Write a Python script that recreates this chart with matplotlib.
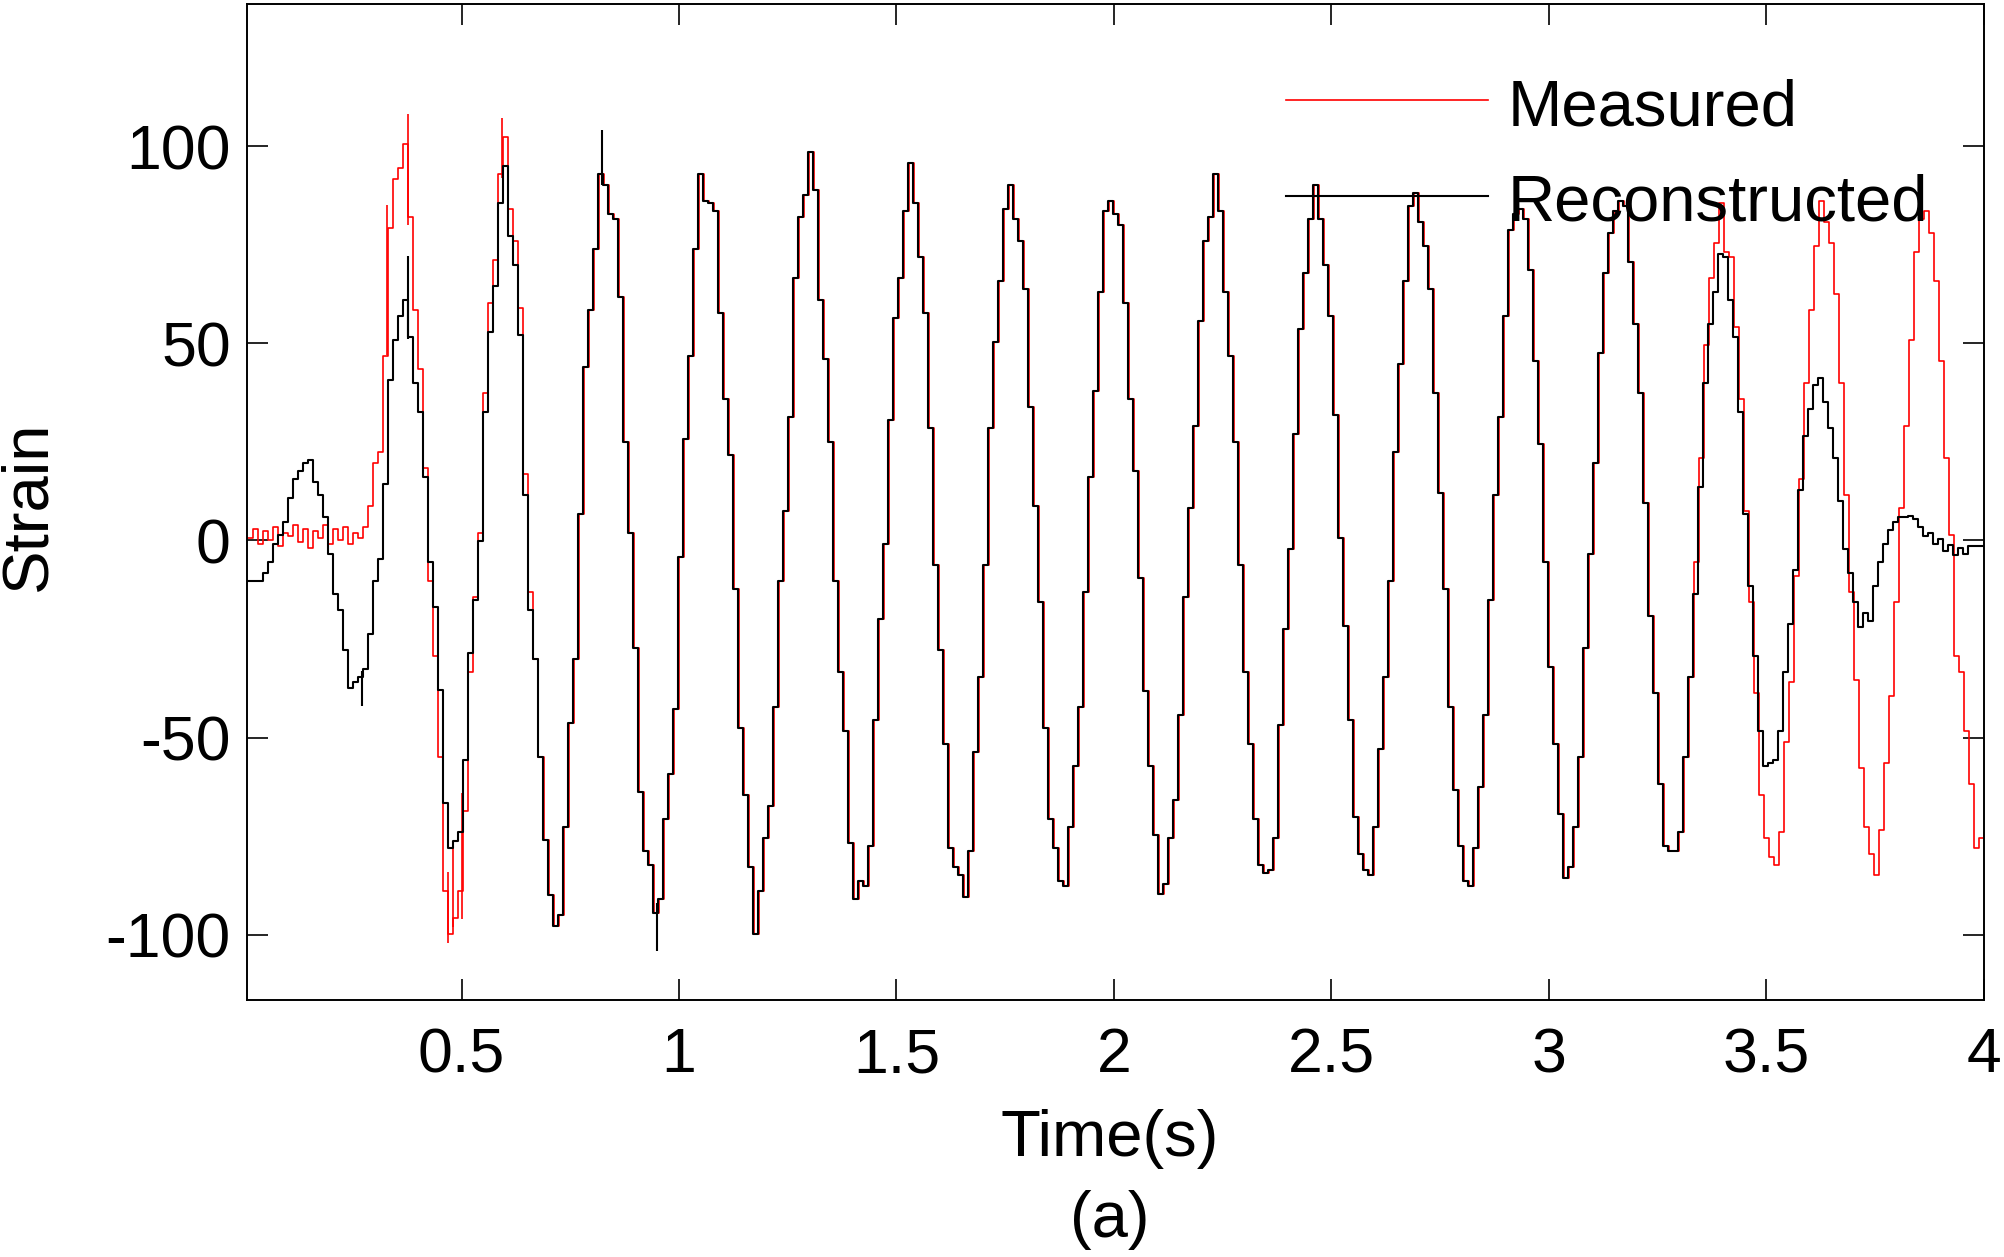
import numpy as np
import matplotlib
matplotlib.use("Agg")
import matplotlib.pyplot as plt
from matplotlib.lines import Line2D

# ---------------- data ----------------
DT = 0.0115          # hold time of one step (s)
T0 = 0.008           # time of first sample (s)
MEAS_LAG = 0.002     # measured record lags the reconstruction slightly

# Reconstructed strain, step values
recon_a = [-10.3, -10.3, -10.3, -8.2, -5.5, -0.8, 1.3, 4.7, 10.8, 15.5,
           17.6, 19.6, 20.3, 14.9, 11.5, 6.0, -3.5, -13.6, -17.7, -27.9,
           -37.4, -36.0, -34.7, -32.7, -23.8, -10.3, -4.8, 14.2, 40.7, 50.8,
           57.0, 61.0, 51.5, 40.0, 32.5, 16.2, -5.5, -17.0, -38.0, -66.6,
           -78.1, -76.1, -74.0, -55.7, -28.6, -15.0, -0.1, 32.5, 52.9, 64.4,
           85.5, 95.0, 77.3, 69.8, 52.2, 11.5, -17.7]
recon_b = [-30, -55, -76, -90, -97.8, -95, -72.7, -46.2, -30, 6.7,
           44, 58.3, 73.9, 92.9, 90, 82.7, 81.4, 61.7, 25, 2,
           -27.2, -63.9, -78.8, -82.2, -94.4, -91, -70.7, -59.1, -42.8, -4.1,
           25.7, 46.8, 73.9, 92.9, 86.1, 85.5, 83.4, 57.6, 35.9, 21.7,
           -12.3, -47.6, -64.6, -82.9, -99.9, -89, -75.4, -67.3, -42.2, -10.3,
           7.4, 31.2, 66.5, 82.1, 87.5, 98.4, 88.9, 61]
recon_c = [46, 25, -10.3, -33.3, -48.3, -76.8, -91, -86.3, -87.6, -77.5,
           -45.6, -19.8, -0.8, 30.5, 56.3, 66.5, 83.4, 95.6, 85.5, 71.9,
           57.6, 28.4, -6.2, -27.9, -51.7, -78.1, -82.9, -84.9, -90.3, -78.8,
           -53.7, -34.7, -6.2, 28.4, 50.2, 65.8, 84.1, 90.2, 81.4, 75.9,
           63.7, 33.9, 8.8, -15.7, -47.6, -70.7, -78.1, -86.3, -87.6, -72.7,
           -57.1, -42.2, -13, 16.2, 37.9, 63, 83.4, 86.1]
recon_d = [82.7, 80, 60.3, 35.9, 17.6, -9.6, -38.1, -57.1, -74.7, -89.7,
           -87, -75.4, -65.9, -44.2, -14.3, 8.1, 29.1, 55.6, 75.9, 82.1,
           92.9, 83.4, 63, 46.8, 25, -6.2, -33.3, -51.7, -70.7, -82.2,
           -84.2, -83.6, -75.4, -46.9, -22.5, -2.1, 27.1, 53.6, 67.8, 81.4,
           90.2, 81.4, 69.8, 57, 31.8, 0.6, -21.8, -45.6, -70, -79.5,
           -83.6, -84.9, -72.7, -53, -34.7, -10.3, 22.3, 44.7]
recon_e = [65.8, 84.8, 88.2, 80.7, 74.6, 63.7, 37.3, 12.1, -12.3, -42.2,
           -63.2, -77.5, -86.3, -87.6, -78.1, -62.5, -44.2, -15, 11.5, 31.2,
           57, 78.7, 82.7, 84.1, 81.4, 68.5, 45.4, 24.4, -5.5, -32,
           -51.7, -69.3, -85.6, -82.9, -72.7, -55, -27.2, -3.5, 19.6, 47.4,
           67.8, 78, 83.4, 86.1, 84.8, 70.5, 54.9, 37.3, 9.4, -19.1,
           -38.8, -61.8, -77.5, -78.8, -78.8, -74, -55, -34.7]
recon_f = [-13.6, 13.5, 40, 54.9, 63, 72.6, 71.9, 61, 51.5, 32.5,
           6.7, -11.6, -29.3, -48.3, -57.1, -56.4, -55.7, -48.3, -33.3, -21.1,
           -7.5, 12.8, 26.4, 33.2, 39.3, 41.3, 35.2, 28.4, 20.9, 10.1,
           -2.1, -8.2, -15.7, -22.0, -18.5, -20.5, -11.6, -5.5, -0.8, 2.6,
           4.7, 6, 6, 6.3, 5.4, 3.3, 1.0, 2.0, -0.8, 0.3,
           -2.6, -1.2, -3.6, -2.0, -3.4, -1.4, -1.4, -1.4]

# Measured strain: own values at start and end, same steps as above in between
meas_start = [0.5, 3, -1, 2.5, 0, 3.5, -1.5, 2, 1, 4,
              -0.5, 3, -2, 2.5, 0.5, 4, -1, 3, 0, 3.5,
              -1, 2, 0.5, 3.5,
              8.8, 19.6, 22.3, 46.8, 79.3, 91.6, 94.3, 100.4, 82, 58.3,
              43.4, 18.3, -10.3, -29.3, -55, -89, -99.8, -95.8, -89, -68.6,
              -33.3, -14.3, 2, 37.3, 60.3, 71.2, 92.9, 102.4, 84.1, 76,
              59, 16.9, -13]
meas_end = [-5.5, 21, 49.5, 66.5, 75.3, 85.5, 73.2, 71.9, 54.2, 35.9,
            7.4, -15.7, -38.8, -64.6, -75.4, -80.2, -82.2, -74, -51, -36,
            -8.9, 15.5, 40, 58.3, 74.6, 86.1, 80.7, 75.3, 62.4, 40,
            11.5, -13, -35.4, -57.8, -72.7, -79.5, -84.9, -73.4, -56.4, -39.4,
            -15.7, 8.1, 29.1, 50.8, 73.2, 81.4, 83.4, 78, 65.8, 45.4,
            21, 1.3, -29.3, -33.3, -48.3, -61.8, -78.1, -75.4, -74]

# short spikes (time, low, high)
meas_spike_t = [0.329, 0.376, 0.468, 0.481, 0.502, 0.594]
meas_spike_lo = [47, 80, -102, -98, -96, 92]
meas_spike_hi = [85, 108, -84, -77, -64, 107]
recon_spike_t = [0.272, 0.376, 0.822, 0.950]
recon_spike_lo = [-42, 51, 90, -104]
recon_spike_hi = [-33, 72, 104, -92]

xticks = [0.5, 1, 1.5, 2, 2.5, 3, 3.5, 4]
xticklabels = ["0.5", "1", "1.5", "2", "2.5", "3", "3.5", "4"]
yticks = [-100, -50, 0, 50, 100]
yticklabels = ["-100", "-50", "0", "50", "100"]

# ---------------- build series ----------------
recon = recon_a + recon_b + recon_c + recon_d + recon_e + recon_f
meas = meas_start + recon_b + recon_c + recon_d + recon_e + meas_end


def stepped(vals, t0):
    v = np.asarray(vals, dtype=float)
    t = t0 + DT * np.arange(len(v) + 1)
    return t, np.append(v, v[-1])


t_r, v_r = stepped(recon, T0)
t_m, v_m = stepped(meas, T0 + MEAS_LAG)

# ---------------- figure ----------------
plt.rcParams["font.family"] = ["Liberation Sans", "DejaVu Sans"]
FS_TICK = 45
FS_LAB = 47

fig = plt.figure(figsize=(20.04, 12.57), dpi=100)
ax = fig.add_axes([0.1235, 0.2045, 0.8665, 0.7923])

ax.plot(t_m, v_m, drawstyle="steps-post", color="#ff0000", lw=1.2)
ax.vlines(meas_spike_t, meas_spike_lo, meas_spike_hi, color="#ff0000", lw=1.2)
ax.plot(t_r, v_r, drawstyle="steps-post", color="black", lw=1.5)
ax.vlines(recon_spike_t, recon_spike_lo, recon_spike_hi, color="black", lw=1.5)

ax.set_xlim(0.008, 4.0)
ax.set_ylim(-116.5, 136)
ax.set_xticks(xticks)
ax.set_xticklabels(xticklabels)
ax.set_yticks(yticks)
ax.set_yticklabels(yticklabels)
ax.tick_params(axis="both", direction="in", length=15, width=1.2,
               top=True, right=True, labelsize=FS_TICK)
ax.tick_params(axis="x", pad=19)
ax.tick_params(axis="y", pad=12)
for s in ax.spines.values():
    s.set_linewidth(1.4)

fig.text(0.5536, 0.094, "Time(s)", ha="center", va="center", fontsize=FS_LAB)
fig.text(0.5536, 0.0294, "(a)", ha="center", va="center", fontsize=FS_LAB)
fig.text(0.014, 0.598, "Strain", ha="center", va="center",
         rotation=90, fontsize=FS_LAB)

# legend (no frame, drawn over the data)
fig.add_artist(Line2D([0.6417, 0.7425], [0.9204, 0.9204],
                      transform=fig.transFigure, color="#ff0000", lw=1.2))
fig.add_artist(Line2D([0.6417, 0.7425], [0.8441, 0.8441],
                      transform=fig.transFigure, color="black", lw=1.5))
fig.text(0.7525, 0.9003, "Measured", ha="left", va="baseline", fontsize=FS_LAB)
fig.text(0.7525, 0.8242, "Reconstructed", ha="left", va="baseline",
         fontsize=FS_LAB)

fig.savefig("out.png", dpi=100)
